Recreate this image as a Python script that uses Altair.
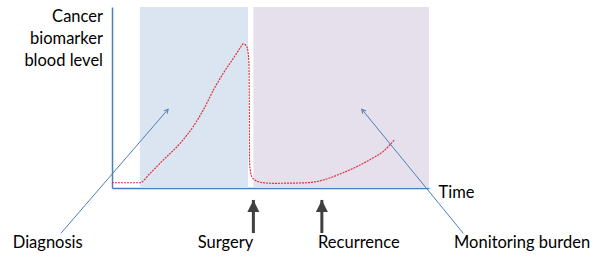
import math
import altair as alt
import pandas as pd

# ---- data (time and level in arbitrary units, 0-100 plot range) ----
curve_t = [0, 8.8, 12.0, 16.2, 21.5, 25.6, 28.8, 32.0, 35.1, 38.3, 40.4, 41.4, 42.3, 42.7,
           43.2, 43.3, 43.4, 44.1, 45.1, 47.3, 50.8, 61.4, 66.6, 71.9, 77.2, 82.3, 85.5, 89.0]
curve_level = [2.9, 2.9, 8.1, 15.5, 24.7, 33.9, 43.1, 54.1, 63.4, 71.7, 77.3, 79.6, 78.7, 77.2,
               68.9, 48.6, 13.6, 6.2, 4.4, 3.0, 2.6, 2.9, 4.4, 7.7, 11.8, 16.6, 20.1, 26.5]

phase_names = ["diagnosis", "monitoring"]
phase_start = [8.8, 44.6]
phase_end = [42.9, 100.0]
phase_colors = ["#dbe5f1", "#e6dfec"]

event_names = ["Surgery", "Recurrence"]
event_t = [44.6, 66.2]
event_tail = [-24.9, -24.9]
event_head = [-6.6, -6.6]

callout_names = ["Diagnosis", "Monitoring burden"]
callout_tail_t = [-16.1, 110.8]
callout_tail_level = [-25.0, -25.0]
callout_head_t = [17.7, 78.8]
callout_head_level = [43.5, 43.5]

label_texts = ["Diagnosis", "Surgery", "Recurrence", "Monitoring burden"]
label_t = [-31.3, 35.8, 65.0, 107.9]
label_level = [-33.0, -33.0, -33.0, -33.0]
label_align = ["left", "center", "left", "left"]

y_title = ["Cancer", "biomarker", "blood level"]
x_title = "Time"

# ---- layout ----
W, H = 317, 181
SX, SY = W / 100.0, H / 100.0
FONT = "Lato"
FS = 16.5
BLUE = "#4a7ebb"

xs = alt.Scale(domain=[0, 100], nice=False, zero=False)
ys = alt.Scale(domain=[0, 100], nice=False, zero=False)

X_AXIS = alt.Axis(
    title=x_title, domain=True, domainColor=BLUE, domainWidth=1.5, ticks=False,
    labels=False, grid=False, titleAngle=0, titleAlign="left", titleBaseline="alphabetic",
    titleX=326, titleY=9.3, titleFont=FONT, titleFontSize=FS, titleFontWeight="normal",
    titleColor="#000000")
Y_AXIS = alt.Axis(
    title=y_title, domain=True, domainColor=BLUE, domainWidth=1.5, ticks=False,
    labels=False, grid=False, titleAngle=0, titleAlign="right", titleBaseline="alphabetic",
    titleX=-9.5, titleY=14.7, titleLineHeight=22, titleFont=FONT, titleFontSize=FS,
    titleFontWeight="normal", titleColor="#000000")


def X(field):
    return alt.X(field, scale=xs, axis=X_AXIS)


def Y(field):
    return alt.Y(field, scale=ys, axis=Y_AXIS)


phases = pd.DataFrame({"phase": phase_names, "t0": phase_start, "t1": phase_end,
                       "l0": [0, 0], "l1": [100, 100], "c": phase_colors})
rects = alt.Chart(phases).mark_rect().encode(
    x=X("t0:Q"), x2="t1:Q", y=Y("l0:Q"), y2="l1:Q",
    color=alt.Color("c:N", scale=None),
)

curve_df = pd.DataFrame({"t": curve_t, "level": curve_level})
curve = alt.Chart(curve_df).mark_line(
    color="#e0323c", strokeWidth=1.2, strokeDash=[2, 1], interpolate="monotone"
).encode(x=X("t:Q"), y=Y("level:Q"))

# callout arrows (thin blue)
co = pd.DataFrame({"name": callout_names, "t0": callout_tail_t, "l0": callout_tail_level,
                   "t1": callout_head_t, "l1": callout_head_level})
co["angle"] = [math.degrees(math.atan2((b - a) * SX, (d - c) * SY)) % 360
               for a, b, c, d in zip(co["t0"], co["t1"], co["l0"], co["l1"])]
co_lines = alt.Chart(co).mark_rule(color=BLUE, strokeWidth=1).encode(
    x=X("t0:Q"), x2="t1:Q", y=Y("l0:Q"), y2="l1:Q")
co_heads = alt.Chart(co).mark_point(
    shape="M-0.55,1L0,0L0.55,1", filled=False, color=BLUE, strokeWidth=1, size=64, opacity=1
).encode(x=X("t1:Q"), y=Y("l1:Q"), angle=alt.Angle("angle:Q", scale=None))

# event arrows (thick grey)
ev = pd.DataFrame({"name": event_names, "t": event_t, "tail": event_tail, "head": event_head})
ev_lines = alt.Chart(ev).mark_rule(color="#404040", strokeWidth=3).encode(
    x=X("t:Q"), y=Y("tail:Q"), y2="head:Q")
ev_heads = alt.Chart(ev).mark_point(
    shape="M0,0L0.5,1L-0.5,1Z", filled=True, color="#404040", size=576, opacity=1
).encode(x=X("t:Q"), y=Y("head:Q"))

lab = pd.DataFrame({"text": label_texts, "t": label_t, "level": label_level, "al": label_align})
labels = []
for al in ["left", "center"]:
    labels.append(alt.Chart(lab[lab["al"] == al]).mark_text(
        align=al, baseline="alphabetic", font=FONT, fontSize=FS, color="#000000"
    ).encode(x=X("t:Q"), y=Y("level:Q"), text="text:N"))

chart = alt.layer(rects, curve, co_lines, co_heads, ev_lines, ev_heads, *labels).properties(
    width=W, height=H,
    autosize=alt.AutoSizeParams(type="none"),
    padding={"left": 112, "top": 7, "right": 603 - 112 - W, "bottom": 259 - 7 - H},
    background="#ffffff",
).configure_view(stroke=None)

chart.save("out.html", embed_options={"renderer": "svg", "actions": False})
